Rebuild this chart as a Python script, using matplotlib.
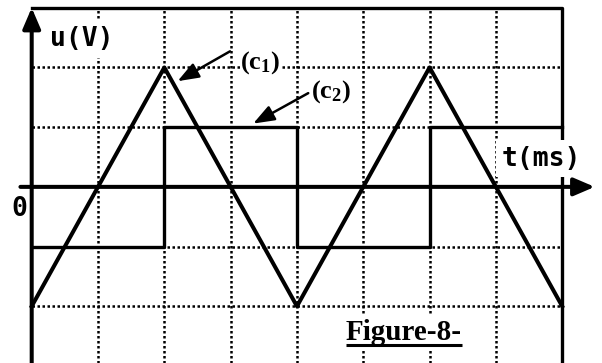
import matplotlib
matplotlib.use("Agg")
import matplotlib.pyplot as plt
from matplotlib.patches import FancyArrowPatch

# courbes (unite = un carreau)
t_c1 = [0, 2, 4, 6, 8]
u_c1 = [-2, 2, -2, 2, -2]
t_c2 = [0, 2, 2, 4, 4, 6, 6, 8]
u_c2 = [-1, -1, 1, 1, -1, -1, 1, 1]

# lignes de la grille
grille_t = [1, 2, 3, 4, 5, 6, 7]
grille_u = [-2, -1, 1, 2]

plt.rcParams['mathtext.default'] = 'regular'

fig = plt.figure(figsize=(6.02, 3.63), dpi=100)
ax = fig.add_axes([0, 0, 1, 1])
xmin, xmax = -0.478, 8.60
ymin, ymax = -2.95, 3.13
ax.set_xlim(xmin, xmax)
ax.set_ylim(ymin, ymax)
ax.axis('off')

# grille pointillee
pointille = dict(color='black', lw=1.8, linestyle=(0, (1, 1)), dash_capstyle='butt', zorder=1)
for t in grille_t:
    ax.plot([t, t], [ymin, 3], **pointille)
for u in grille_u:
    ax.plot([0, 8], [u, u], **pointille)

# cadre
ax.plot([0, 8, 8], [3, 3, ymin], color='black', lw=2.4, zorder=2, solid_capstyle='projecting')

# axes avec fleches
fleche = dict(arrowstyle='-|>,head_length=0.7,head_width=0.3', lw=2.9, color='black',
              shrinkA=0, shrinkB=0, mutation_scale=18)
ax.annotate('', xy=(0, 3.0), xytext=(0, ymin), arrowprops=fleche, zorder=4)
ax.annotate('', xy=(8.49, 0), xytext=(-0.17, 0), arrowprops=fleche, zorder=4)

# courbes
ax.plot(t_c2, u_c2, color='black', lw=2.4, zorder=3)
ax.plot(t_c1, u_c1, color='black', lw=2.9, zorder=3)

# textes
mono = dict(family='DejaVu Sans Mono', weight='bold', fontsize=19)
ax.text(0.27, 2.47, 'u(V)', ha='left', va='center', zorder=5,
        bbox=dict(fc='white', ec='none', pad=4), **mono)
ax.text(7.69, 0.47, 't(ms)', ha='center', va='center', zorder=5,
        bbox=dict(fc='white', ec='none', pad=4), **mono)
ax.text(-0.18, -0.37, '0', ha='center', va='center', **mono)

serif = dict(family='Liberation Serif', weight='bold', fontsize=19)
ax.text(3.45, 2.09, '(c$_1$)', ha='center', va='center', zorder=5,
        bbox=dict(fc='white', ec='none', pad=0.5), **serif)
ax.text(4.52, 1.59, '(c$_2$)', ha='center', va='center', zorder=5,
        bbox=dict(fc='white', ec='none', pad=0.5), **serif)

petite = dict(arrowstyle='-|>,head_length=0.8,head_width=0.3', lw=1.8, color='black',
              mutation_scale=16, shrinkA=0, shrinkB=0, zorder=4)
ax.add_patch(FancyArrowPatch((2.99, 2.27), (2.20, 1.77), **petite))
ax.add_patch(FancyArrowPatch((4.17, 1.57), (3.34, 1.06), **petite))

fig_txt = ax.text(5.61, -2.56, 'Figure-8-', ha='center', va='baseline', zorder=5,
                  family='Liberation Serif', weight='bold', fontsize=21,
                  bbox=dict(fc='white', ec='none', pad=3))

# soulignement du titre
fig.canvas.draw()
bb = fig_txt.get_window_extent(renderer=fig.canvas.get_renderer())
inv = ax.transData.inverted()
(x0, _), (x1, _) = inv.transform([(bb.x0, 0), (bb.x1, 0)])
ax.plot([x0, x1], [-2.65, -2.65], color='black', lw=2.2, zorder=6, solid_capstyle='butt')

fig.savefig('out.png', dpi=100)
